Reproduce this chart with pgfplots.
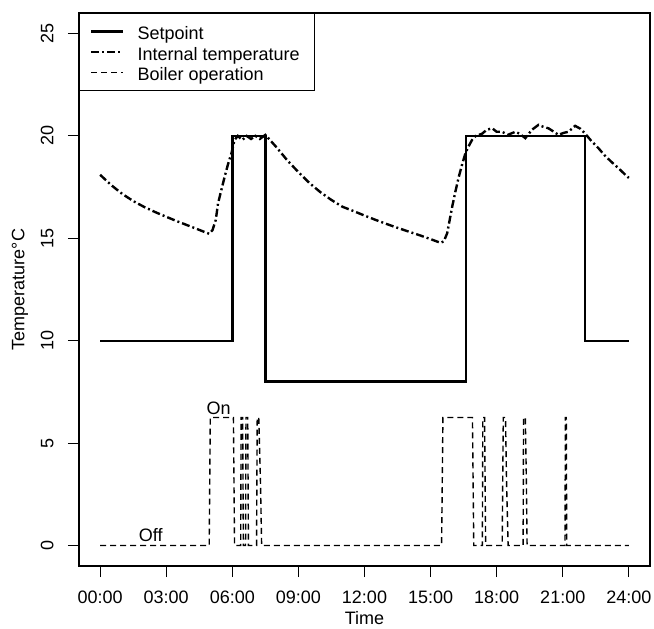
\documentclass[border=0pt]{standalone}
\usepackage{fontspec}
\setmainfont{Liberation Sans}
\usepackage{pgfplots}
\pgfplotsset{compat=1.18}

\begin{document}
\begin{tikzpicture}
\begin{axis}[
  scale only axis, width=285.5pt, height=276.5pt,
  xmin=-0.96, xmax=24.96, ymin=-1, ymax=26,
  xtick={0,3,...,24},
  xticklabels={00:00,03:00,06:00,09:00,12:00,15:00,18:00,21:00,24:00},
  ytick={0,5,10,15,20,25},
  yticklabels={0,5,10,15,20,25},
  /pgf/number format/assume math mode=true,
  xtick pos=left, ytick pos=left,
  tick align=outside, major tick length=5.5pt,
  tick style={black, line width=0.6pt},
  axis line style={line width=0.6pt},
  font=\fontsize{9}{10.5}\selectfont,
  xticklabel style={inner sep=0pt, anchor=north, yshift=-7pt},
  yticklabel style={inner sep=0pt, rotate=90, anchor=south, yshift=7pt},
  xlabel={Time}, ylabel={Temperature°C},
  xlabel style={at={(axis description cs:0.5,-0.094)}, anchor=center, inner sep=0pt},
  ylabel style={at={(axis description cs:-0.1033,0.5)}, anchor=center, rotate=0, inner sep=0pt},
  legend style={at={(axis description cs:0,1)}, anchor=north west, draw=black,
    line width=0.6pt, font=\fontsize{9}{10.5}\selectfont,
    inner xsep=5.3pt, inner ysep=3pt, row sep=-1.65pt,
    nodes={text height=10pt, text depth=1.9pt, inner ysep=0pt},
    /tikz/every odd column/.append style={column sep=4.5pt}},
  legend cell align=left,
  legend image code/.code={\draw[#1] (0pt,0pt) -- (16pt,0pt);},
]
% setpoint
\addplot[black, line width=1.2pt] coordinates {
  (0,10) (6,10) (6,20) (7.5,20) (7.5,8) (16.6,8) (16.6,20) (22,20) (22,10) (24,10)
};
% internal temperature
\addplot[black, line width=1.2pt, dash pattern=on 4pt off 1.5pt on 1pt off 1.5pt] coordinates {
  (0,18.1) (0.5,17.6) (1.0,17.17) (1.5,16.82) (2.0,16.53) (2.5,16.28) (3.0,16.05)
  (3.5,15.83) (4.0,15.62) (4.5,15.41) (4.95,15.22) (5.1,15.4) (5.25,15.9) (5.35,16.7)
  (5.5,17.35) (5.65,18.0) (5.8,18.6) (5.96,19.15) (6.1,19.8) (6.25,20.0) (6.45,19.8)
  (6.65,20.0) (6.85,19.85) (7.05,20.0) (7.25,19.85) (7.5,20.05) (7.75,19.75)
  (8.0,19.45) (8.5,18.8) (9.0,18.23) (9.5,17.7) (10.0,17.25) (10.5,16.87) (11.0,16.54)
  (11.5,16.33) (12.0,16.11) (12.5,15.9) (13.0,15.7) (13.5,15.51) (14.0,15.33)
  (14.5,15.15) (15.0,14.96) (15.45,14.78) (15.6,14.85) (15.75,15.24) (15.85,15.8)
  (15.98,16.54) (16.13,17.3) (16.28,18.0) (16.43,18.6) (16.58,19.15) (16.73,19.5)
  (16.88,19.8) (17.05,20.0) (17.33,20.1) (17.55,20.3) (17.8,20.37) (18.0,20.2)
  (18.25,20.2) (18.5,20.05) (18.85,20.2) (19.05,20.1) (19.3,19.89) (19.6,20.3)
  (19.9,20.54) (20.1,20.45) (20.35,20.37) (20.6,20.2) (20.8,20.05) (21.05,20.15)
  (21.26,20.2) (21.56,20.49) (21.8,20.35) (22.0,20.13) (22.3,19.75) (22.62,19.4)
  (22.9,19.05) (23.2,18.74) (23.5,18.45) (23.9,18.04) (24.0,17.95)
};
% boiler operation
\addplot[black, line width=0.7pt, dash pattern=on 3pt off 2pt] coordinates {
  (0,0) (4.95,0) (5.0,6.25) (6.05,6.25) (6.1,0) (6.38,0) (6.4,6.25) (6.47,6.25)
  (6.5,0) (6.6,0) (6.62,6.25) (6.7,6.25) (6.73,0) (7.1,0) (7.13,6.25) (7.2,6.25)
  (7.28,3) (7.33,0) (15.5,0) (15.56,6.25) (16.9,6.25) (16.96,0) (17.35,0)
  (17.37,6.25) (17.45,6.25) (17.5,0) (18.25,0) (18.3,6.25) (18.4,6.25) (18.45,3)
  (18.52,0) (19.2,0) (19.22,6.25) (19.3,6.25) (19.35,3) (19.38,0) (21.1,0)
  (21.12,6.25) (21.16,6.25) (21.18,0) (24,0)
};
\legend{Setpoint,Internal temperature,Boiler operation}
\node[font=\fontsize{9}{10.5}\selectfont] at (axis cs:5.38,6.71) {On};
\node[font=\fontsize{9}{10.5}\selectfont] at (axis cs:2.3,0.49) {Off};
\end{axis}
\pgfresetboundingbox
\path[use as bounding box] (-39.5pt,-31pt) rectangle (287.5pt,283pt);
\end{tikzpicture}
\end{document}
